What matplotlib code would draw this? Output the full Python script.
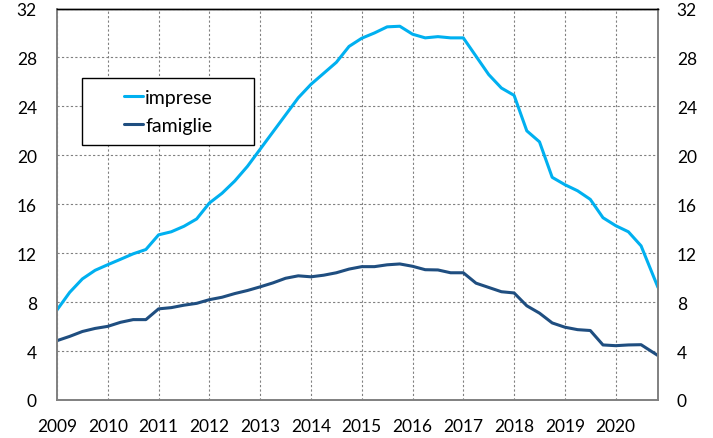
import matplotlib
matplotlib.use("Agg")
import matplotlib.pyplot as plt
from matplotlib.patches import Rectangle
import numpy as np

# quarterly observation dates (year, month)
dates = [(y, m) for y in range(2009, 2020) for m in (1, 4, 7, 10)] + [(2020, 1), (2020, 4), (2020, 7), (2020, 11)]

imprese = [7.36, 8.8, 9.9, 10.6,
           11.06, 11.5, 11.95, 12.3,
           13.5, 13.75, 14.2, 14.8,
           16.1, 16.9, 17.9, 19.1,
           20.5, 21.9, 23.3, 24.7,
           25.8, 26.7, 27.6, 28.9,
           29.57, 30.0, 30.5, 30.55,
           29.9, 29.6, 29.7, 29.6,
           29.6, 28.1, 26.6, 25.5,
           24.9, 22.0, 21.1, 18.2,
           17.6, 17.1, 16.4, 14.9,
           14.25, 13.75, 12.6, 9.2]

famiglie = [4.85, 5.2, 5.6, 5.85,
            6.02, 6.35, 6.57, 6.57,
            7.45, 7.55, 7.75, 7.9,
            8.2, 8.4, 8.7, 8.95,
            9.25, 9.57, 9.95, 10.15,
            10.07, 10.2, 10.4, 10.7,
            10.9, 10.9, 11.05, 11.12,
            10.93, 10.65, 10.63, 10.4,
            10.4, 9.55, 9.2, 8.85,
            8.75, 7.7, 7.1, 6.3,
            5.95, 5.75, 5.68, 4.5,
            4.44, 4.5, 4.52, 3.63]

year_ticks = list(range(2009, 2021))
y_ticks = list(range(0, 33, 4))

x = np.array([y + (m - 1) / 12 for y, m in dates])

plt.rcParams['font.family'] = ['Lato', 'DejaVu Sans']

W, H = 713, 439
L, R, T, B = 57, 658, 9.5, 401
fig = plt.figure(figsize=(W/100, H/100), dpi=100)
ax = fig.add_axes([L/W, (H-B)/H, (R-L)/W, (B-T)/H])

ax.plot(x, imprese, color='#00B0F0', lw=2.2, solid_joinstyle='round', solid_capstyle='round', label='imprese')
ax.plot(x, famiglie, color='#1F4E80', lw=2.2, solid_joinstyle='round', solid_capstyle='round', label='famiglie')

ax.set_xlim(2009, 2020 + 10/12)
ax.set_ylim(0, 32)
ax.set_xticks(year_ticks)
ax.set_xticklabels([str(t) for t in year_ticks])
ax.set_yticks(y_ticks)
ax.grid(True, color='#808080', ls=(0, (2, 2)), lw=0.8)
ax.set_axisbelow(True)
ax.tick_params(axis='both', length=0, labelsize=12.5, colors='black')
ax.tick_params(axis='x', pad=13)
ax.tick_params(axis='y', pad=14.5)

ax2 = ax.twinx()
ax2.set_ylim(0, 32)
ax2.set_yticks(y_ticks)
ax2.tick_params(axis='y', length=0, labelsize=12.5, pad=13.5)

for a in (ax, ax2):
    for s in ('left', 'bottom', 'right'):
        a.spines[s].set_color('#808080')
        a.spines[s].set_linewidth(1.2)
    a.spines['top'].set_color('black')
    a.spines['top'].set_linewidth(1.0)

# legend box (pixel geometry of the reference)
bx0, bx1, by0, by1 = 82.3, 254.3, 79.3, 145.7
def to_ax(px, py):
    return (px - L) / (R - L), (B - py) / (B - T)
x0, y1 = to_ax(bx0, by0)
x1, y0 = to_ax(bx1, by1)
ax2.add_patch(Rectangle((x0, y0), x1 - x0, y1 - y0, transform=ax.transAxes,
                        facecolor='white', edgecolor='black', lw=1.0, zorder=5))
leg = ax2.legend(*ax.get_legend_handles_labels(), loc='center',
                 bbox_to_anchor=((x0 + x1) / 2, (y0 + y1) / 2), bbox_transform=ax.transAxes,
                 fontsize=14, frameon=False, handlelength=1.0, handletextpad=0.1,
                 labelspacing=0.55, borderpad=0, borderaxespad=0)
leg.set_zorder(6)

fig.savefig('out.png', dpi=100)
